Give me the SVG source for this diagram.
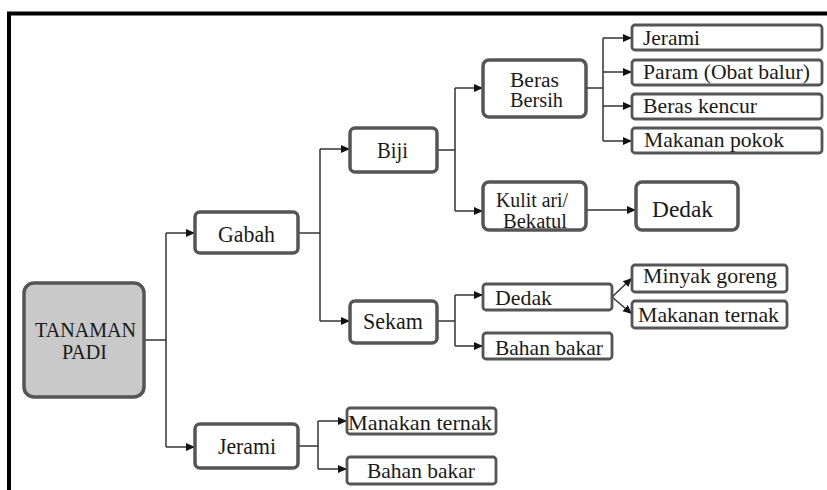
<svg xmlns="http://www.w3.org/2000/svg" width="827" height="490" viewBox="0 0 827 490">
<style>
.box{fill:#fff;stroke:#555;stroke-width:3.5}
.leaf{fill:#fff;stroke:#555;stroke-width:2.8}
.root{fill:#c9c9c9;stroke:#555;stroke-width:3.5}
.t text{font-family:'Liberation Serif','DejaVu Serif',serif;font-size:21px;fill:#1a1a1a}
.t text.big{font-size:24px}
.t text.mid{font-size:22px}
.t text.two{font-size:20px}
.c{text-anchor:middle}
.conn path{fill:none;stroke:#333;stroke-width:1.5}
</style>
<defs>
<marker id="ah" markerWidth="10" markerHeight="10" refX="9" refY="5" orient="auto" markerUnits="userSpaceOnUse">
<path d="M0,1 L9,5 L0,9 Z" fill="#111"/>
</marker>
</defs>
<rect width="827" height="490" fill="#fff"/>
<path d="M9,490 V13.5 H827" fill="none" stroke="#000" stroke-width="4"/>
<g class="conn">
<path d="M144,340 H166"/>
<path d="M166,233 V447"/>
<path d="M166,233 H195" marker-end="url(#ah)"/>
<path d="M166,447 H195" marker-end="url(#ah)"/>
<path d="M298,233 H320"/>
<path d="M320,149 V321"/>
<path d="M320,149 H350" marker-end="url(#ah)"/>
<path d="M320,321 H350" marker-end="url(#ah)"/>
<path d="M298,446 H318"/>
<path d="M318,421 V469"/>
<path d="M318,421 H347" marker-end="url(#ah)"/>
<path d="M318,469 H347" marker-end="url(#ah)"/>
<path d="M437,150 H455"/>
<path d="M455,88 V211"/>
<path d="M455,88 H483" marker-end="url(#ah)"/>
<path d="M455,211 H483" marker-end="url(#ah)"/>
<path d="M586,210 H636" marker-end="url(#ah)"/>
<path d="M586,88 H603"/>
<path d="M603,38 V141"/>
<path d="M603,38 H632" marker-end="url(#ah)"/>
<path d="M603,72 H632" marker-end="url(#ah)"/>
<path d="M603,106 H632" marker-end="url(#ah)"/>
<path d="M603,141 H632" marker-end="url(#ah)"/>
<path d="M437,321 H455"/>
<path d="M455,295 V346"/>
<path d="M455,295 H483" marker-end="url(#ah)"/>
<path d="M455,346 H483" marker-end="url(#ah)"/>
<path d="M612,297 L632,278" marker-end="url(#ah)"/>
<path d="M612,297 L632,314" marker-end="url(#ah)"/>
</g>
<g class="t">
<g id="tanaman-padi"><rect class="root" x="24" y="283" width="120" height="114" rx="10"/><text class="c two" x="85.5" y="337" textLength="101" lengthAdjust="spacingAndGlyphs">TANAMAN</text><text class="c two" x="84.5" y="359" textLength="45" lengthAdjust="spacingAndGlyphs">PADI</text></g>
<g id="gabah"><rect class="box" x="195" y="212" width="103" height="41" rx="5"/><text class="c big" x="246.5" y="242" textLength="57" lengthAdjust="spacingAndGlyphs">Gabah</text></g>
<g id="jerami1"><rect class="box" x="195" y="424" width="103" height="44" rx="5"/><text class="c big" x="247" y="454" textLength="58" lengthAdjust="spacingAndGlyphs">Jerami</text></g>
<g id="biji"><rect class="box" x="350" y="128" width="87" height="44" rx="5"/><text class="c big" x="392.5" y="158" textLength="31" lengthAdjust="spacingAndGlyphs">Biji</text></g>
<g id="sekam"><rect class="box" x="350" y="301" width="87" height="42" rx="5"/><text class="c big" x="393" y="329" textLength="60" lengthAdjust="spacingAndGlyphs">Sekam</text></g>
<g id="manakan-ternak"><rect class="leaf" x="347" y="408" width="149" height="26" rx="3"/><text class="c" x="420" y="430" textLength="144" lengthAdjust="spacingAndGlyphs">Manakan ternak</text></g>
<g id="bahan-bakar2"><rect class="leaf" x="347" y="457" width="149" height="27" rx="3"/><text class="c" x="421" y="478" textLength="108" lengthAdjust="spacingAndGlyphs">Bahan bakar</text></g>
<g id="beras-bersih"><rect class="box" x="483" y="60" width="103" height="57" rx="6"/><text class="c two" x="534.5" y="87" textLength="49" lengthAdjust="spacingAndGlyphs">Beras</text><text class="c two" x="536.5" y="107" textLength="53" lengthAdjust="spacingAndGlyphs">Bersih</text></g>
<g id="kulit-ari"><rect class="box" x="483" y="182" width="103" height="48" rx="6"/><text class="c two" x="532" y="207" textLength="72" lengthAdjust="spacingAndGlyphs">Kulit ari/</text><text class="c two" x="535" y="228" textLength="64" lengthAdjust="spacingAndGlyphs">Bekatul</text></g>
<g id="dedak-kanan"><rect class="box" x="636" y="182" width="102" height="48" rx="6"/><text class="c big" x="682.5" y="217" textLength="61" lengthAdjust="spacingAndGlyphs">Dedak</text></g>
<g id="jerami2"><rect class="leaf" x="632" y="25" width="190" height="25" rx="3"/><text x="643" y="45" textLength="57" lengthAdjust="spacingAndGlyphs">Jerami</text></g>
<g id="param"><rect class="leaf" x="632" y="60" width="190" height="25" rx="3"/><text x="643" y="79" textLength="167" lengthAdjust="spacingAndGlyphs">Param (Obat balur)</text></g>
<g id="beras-kencur"><rect class="leaf" x="632" y="94" width="190" height="25" rx="3"/><text x="643" y="113" textLength="114" lengthAdjust="spacingAndGlyphs">Beras kencur</text></g>
<g id="makanan-pokok"><rect class="leaf" x="632" y="128" width="190" height="25" rx="3"/><text x="644" y="147" textLength="140" lengthAdjust="spacingAndGlyphs">Makanan pokok</text></g>
<g id="dedak-sekam"><rect class="leaf" x="483" y="284" width="129" height="26" rx="3"/><text class="mid" x="495" y="305" textLength="57" lengthAdjust="spacingAndGlyphs">Dedak</text></g>
<g id="bahan-bakar1"><rect class="leaf" x="483" y="333" width="129" height="26" rx="3"/><text class="mid" x="495" y="355" textLength="108" lengthAdjust="spacingAndGlyphs">Bahan bakar</text></g>
<g id="minyak-goreng"><rect class="leaf" x="632" y="265" width="155" height="27" rx="3"/><text x="643" y="283" textLength="134" lengthAdjust="spacingAndGlyphs">Minyak goreng</text></g>
<g id="makanan-ternak"><rect class="leaf" x="632" y="301" width="155" height="27" rx="3"/><text x="638" y="322" textLength="141" lengthAdjust="spacingAndGlyphs">Makanan ternak</text></g>
</g>
</svg>
